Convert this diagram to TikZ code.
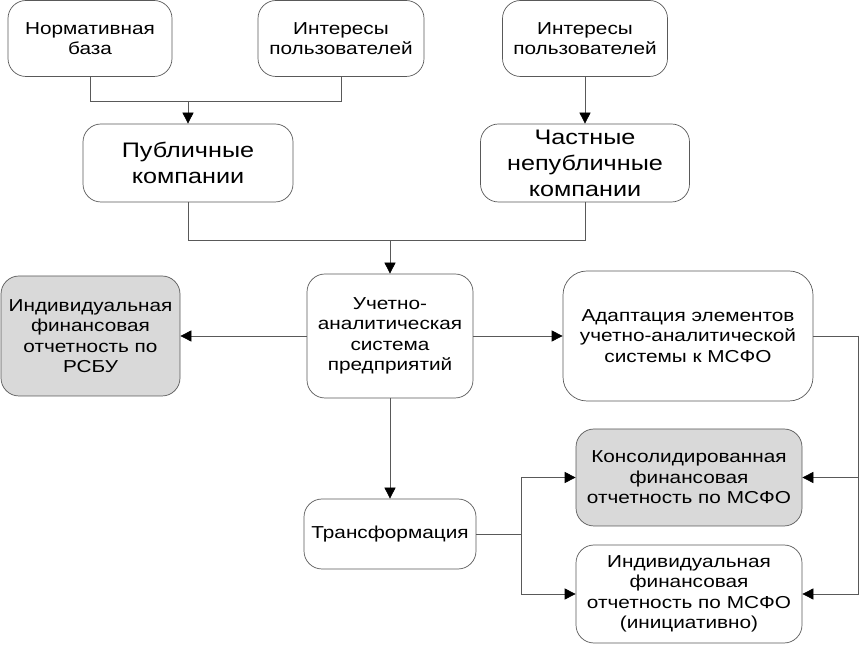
\documentclass[tikz,border=0pt]{standalone}
\usepackage{fontspec}
\setmainfont{Liberation Sans}[FakeStretch=1.2]
\usetikzlibrary{arrows.meta,positioning}

\begin{document}
\begin{tikzpicture}[x=1pt,y=1pt,
  block/.style={draw=black!65, line width=0.7pt, rounded corners=18pt, align=center,
    inner sep=0pt, font=\fontsize{17.3}{20.5}\selectfont},
  gblock/.style={block, fill=black!15},
  bigtext/.style={font=\fontsize{21}{26}\selectfont},
  link/.style={draw=black!65, line width=0.7pt},
  arr/.style={link, -{Triangle[length=11pt,width=11pt,fill=black,color=black]}}]
\useasboundingbox (0,0) rectangle (859,645);

\node[block, minimum width=164pt, minimum height=76pt] (norm) at (90,606.5) {Нормативная\\база};
\node[block, minimum width=166pt, minimum height=76pt] (int1) at (341,606.5) {Интересы\\пользователей};
\node[block, minimum width=165pt, minimum height=76pt] (int2) at (585,606.5) {Интересы\\пользователей};

\node[block, bigtext, minimum width=210pt, minimum height=78pt] (pub) at (188,482) {Публичные\\компании};
\node[block, bigtext, minimum width=209pt, minimum height=78pt] (priv) at (585,482) {Частные\\непубличные\\компании};

\node[block, minimum width=166pt, minimum height=124pt] (uas) at (390,309) {Учетно-\\аналитическая\\система\\предприятий};
\node[gblock, minimum width=179pt, minimum height=120pt] (rsbu) at (90.5,309) {Индивидуальная\\финансовая\\отчетность по\\РСБУ};
\node[block, rounded corners=24pt, minimum width=250pt, minimum height=130pt] (adapt) at (688,309) {Адаптация элементов\\учетно-аналитической\\системы к МСФО};

\node[block, minimum width=172pt, minimum height=70pt] (trans) at (390,111) {Трансформация};
\node[gblock, minimum width=226pt, minimum height=97pt] (cons) at (689,167.5) {Консолидированная\\финансовая\\отчетность по МСФО};
\node[block, minimum width=226pt, minimum height=98pt] (indm) at (689,51) {Индивидуальная\\финансовая\\отчетность по МСФО\\(инициативно)};

% top
\draw[link] (norm.south) -- ++(0,-25) coordinate (j1) -| (int1.south);
\draw[arr] (j1 -| pub.north) -- (pub.north);
\draw[arr] (int2.south) -- (priv.north);
\draw[link] (pub.south) -- ++(0,-38) coordinate (j2) -| (priv.south);
\draw[arr] (j2 -| uas.north) -- (uas.north);

% middle
\draw[arr] (uas.west) -- (rsbu.east);
\draw[arr] (uas.east) -- (adapt.west);
\draw[arr] (uas.south) -- (trans.north);

% bottom
\draw[link] (trans.east) -- ++(45,0) coordinate (j3);
\draw[arr] (j3) |- (cons.west);
\draw[arr] (j3) |- (indm.west);
\draw[link] (adapt.east) -- ++(45,0) coordinate (j4);
\draw[arr] (j4) |- (cons.east);
\draw[arr] (j4) |- (indm.east);
\end{tikzpicture}
\end{document}
